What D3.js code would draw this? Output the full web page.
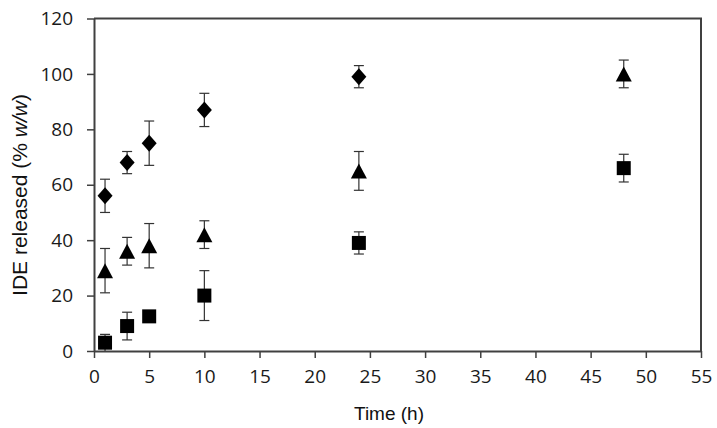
<!DOCTYPE html>
<html>
<head>
<meta charset="utf-8">
<script src="https://cdn.jsdelivr.net/npm/d3@7"></script>
<style>
  body { margin: 0; background: #fff; }
  svg { display: block; }
</style>
</head>
<body>
<svg></svg>
<script>
  // release data
  var times = [1, 3, 5, 10, 24, 48];
  var diamondVals = [56, 68, 75, 87, 99];
  var diamondErr  = [6, 4, 8, 6, 4];
  var triangleVals = [29, 36, 38, 42, 65, 100];
  var triangleErr  = [8, 5, 8, 5, 7, 5];
  var squareVals = [3, 9, 12.5, 20, 39, 66];
  var squareErr  = [3, 5, 0, 9, 4, 5];
  var xTicks = [0, 5, 10, 15, 20, 25, 30, 35, 40, 45, 50, 55];
  var yTicks = [0, 20, 40, 60, 80, 100, 120];

  var width = 717, height = 428;
  var plotLeft = 94, plotRight = 701, plotTop = 18.5, plotBottom = 351;

  var svg = d3.select('svg')
              .attr('width', width)
              .attr('height', height);

  var xScale = d3.scaleLinear().domain([0, 55]).range([plotLeft, plotRight]);
  var yScale = d3.scaleLinear().domain([0, 120]).range([plotBottom, plotTop]);

  var axisColor = '#404040';
  var tickFont = '"Open Sans", sans-serif';

  // frame (top and right)
  svg.append('path')
     .attr('d', `M${plotLeft},${plotTop}H${plotRight}V${plotBottom}`)
     .attr('fill', 'none')
     .attr('stroke', axisColor)
     .attr('stroke-width', 2);

  var xAxis = svg.append('g')
     .attr('transform', `translate(0,${plotBottom})`)
     .call(d3.axisBottom(xScale).tickValues(xTicks).tickSize(7).tickPadding(12).tickSizeOuter(0));

  var yAxis = svg.append('g')
     .attr('transform', `translate(${plotLeft},0)`)
     .call(d3.axisLeft(yScale).tickValues(yTicks).tickSize(7).tickPadding(14).tickSizeOuter(0));

  [xAxis, yAxis].forEach(function(g) {
    g.select('.domain').attr('stroke', axisColor).attr('stroke-width', 2);
    g.selectAll('.tick line').attr('stroke', axisColor).attr('stroke-width', 1.5);
    g.selectAll('.tick text')
     .attr('fill', '#1a1a1a')
     .style('font-family', tickFont)
     .style('font-size', '19px');
  });

  // axis titles
  svg.append('text')
     .attr('x', 389)
     .attr('y', 420)
     .attr('text-anchor', 'middle')
     .style('font-family', '"Liberation Sans", Arial, sans-serif')
     .style('font-size', '19px')
     .attr('fill', '#111')
     .text('Time (h)');

  var yTitle = svg.append('text')
     .attr('transform', 'translate(27,195) rotate(-90)')
     .attr('text-anchor', 'middle')
     .style('font-family', '"Liberation Sans", Arial, sans-serif')
     .style('font-size', '21px')
     .attr('fill', '#111');
  yTitle.append('tspan').text('IDE released (% ');
  yTitle.append('tspan').style('font-style', 'italic').text('w/w');
  yTitle.append('tspan').text(')');

  function shapePath(kind) {
    if (kind === 'diamond') return 'M0,-8.5L7.5,0L0,8.5L-7.5,0Z';
    if (kind === 'triangle') return 'M0,-7.5L8,7.5L-8,7.5Z';
    return 'M-7,-7H7V7H-7Z';
  }

  var series = [
    { kind: 'diamond', vals: diamondVals, err: diamondErr },
    { kind: 'triangle', vals: triangleVals, err: triangleErr },
    { kind: 'square', vals: squareVals, err: squareErr }
  ];

  series.forEach(function(s) {
    var pts = s.vals.map(function(v, i) { return { t: times[i], v: v, e: s.err[i] }; });

    var bars = svg.append('g')
      .selectAll('g')
      .data(pts.filter(d => d.e > 0))
      .enter()
        .append('g')
        .attr('stroke', '#333')
        .attr('stroke-width', 1.2);

    bars.append('line')
        .attr('x1', d => xScale(d.t))
        .attr('x2', d => xScale(d.t))
        .attr('y1', d => yScale(d.v + d.e))
        .attr('y2', d => yScale(Math.max(0, d.v - d.e)));
    bars.append('line')
        .attr('x1', d => xScale(d.t) - 5)
        .attr('x2', d => xScale(d.t) + 5)
        .attr('y1', d => yScale(d.v + d.e))
        .attr('y2', d => yScale(d.v + d.e));
    bars.filter(d => d.v - d.e > 0)
        .append('line')
        .attr('x1', d => xScale(d.t) - 5)
        .attr('x2', d => xScale(d.t) + 5)
        .attr('y1', d => yScale(d.v - d.e))
        .attr('y2', d => yScale(d.v - d.e));

    svg.append('g')
      .selectAll('path')
      .data(pts)
      .enter()
        .append('path')
        .attr('d', shapePath(s.kind))
        .attr('transform', d => `translate(${xScale(d.t)},${yScale(d.v)})`)
        .attr('fill', '#000');
  });
</script>
</body>
</html>
